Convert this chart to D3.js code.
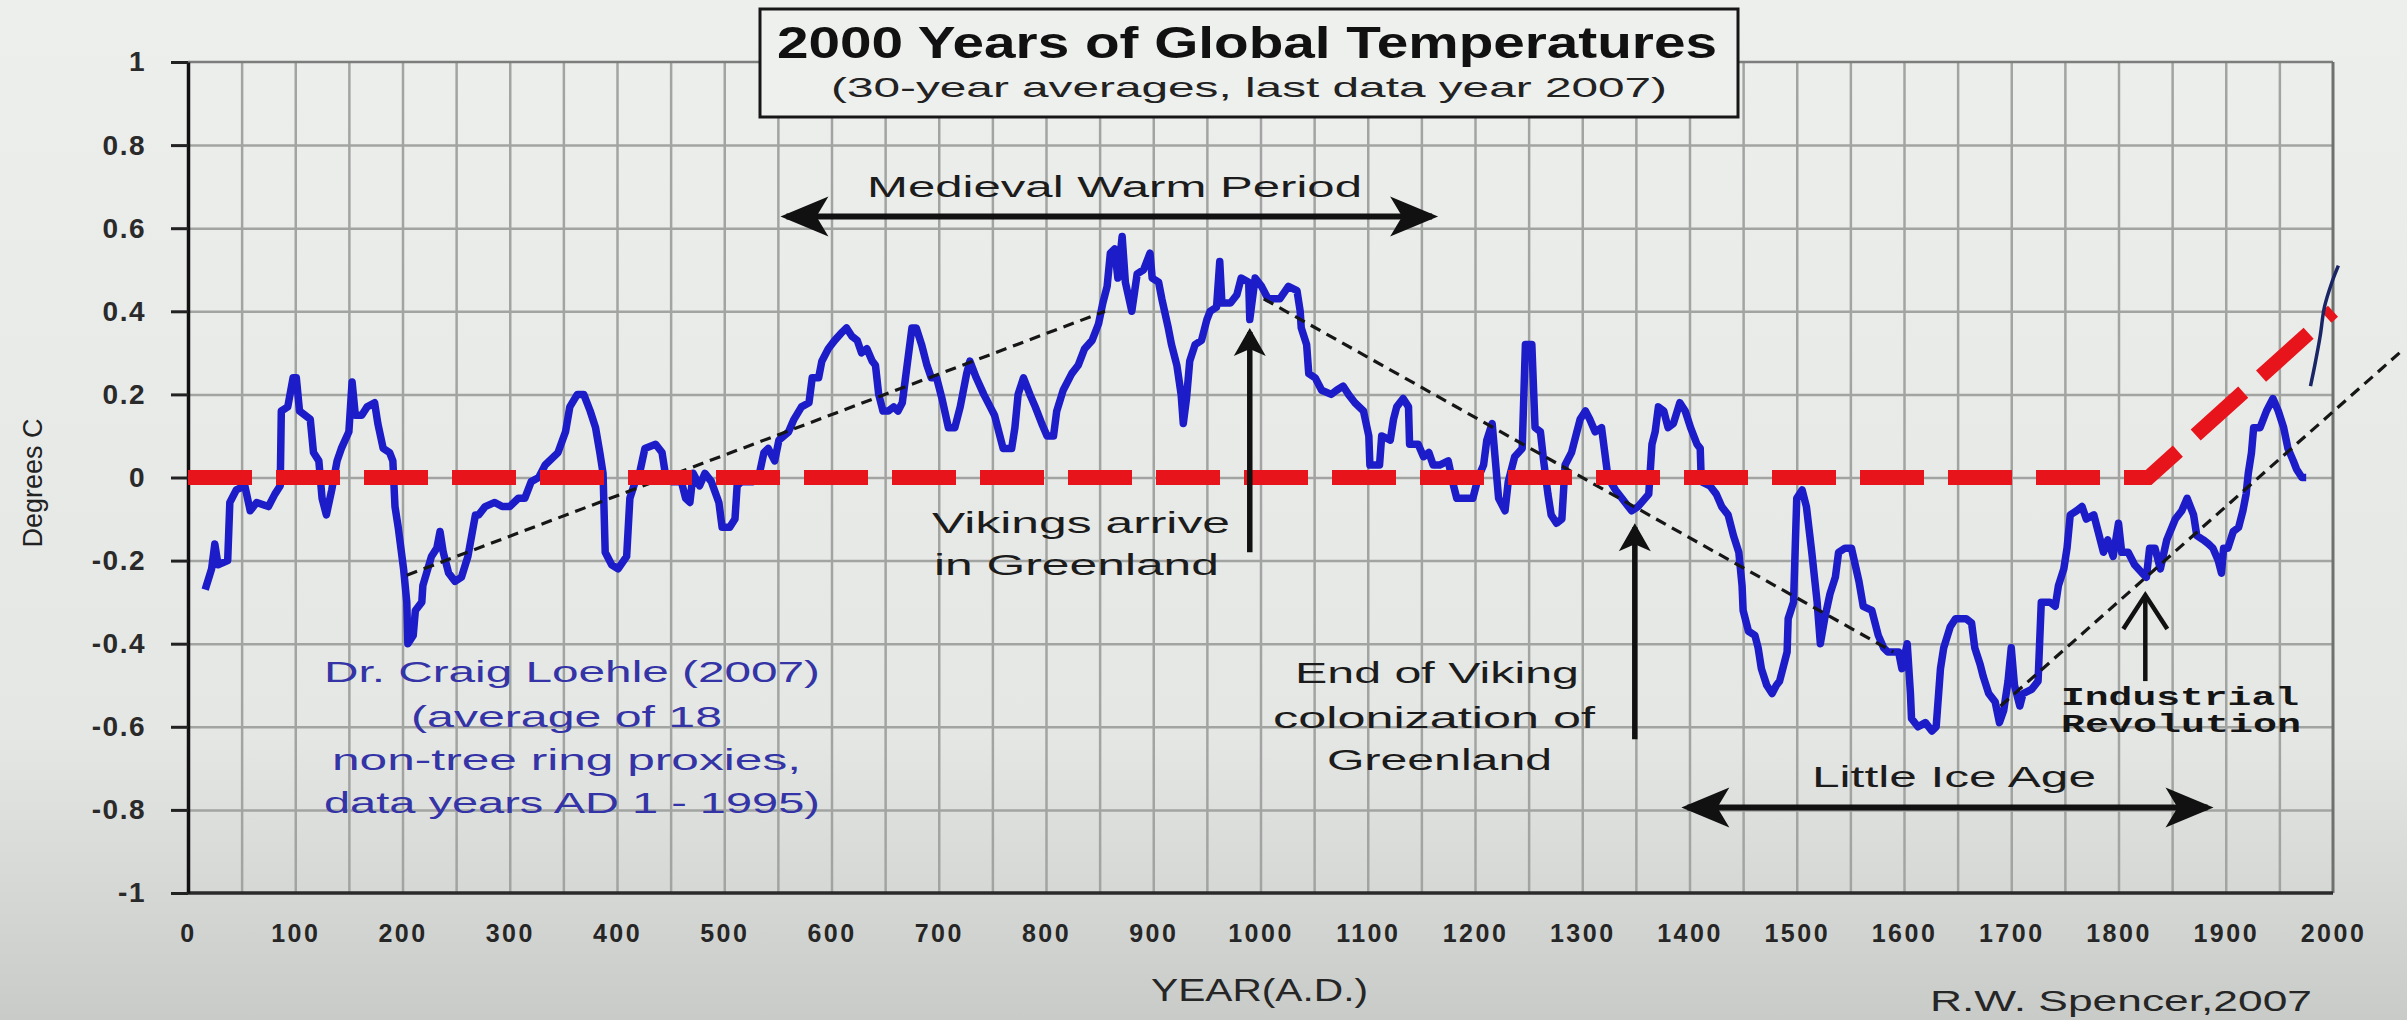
<!DOCTYPE html>
<html>
<head>
<meta charset="utf-8">
<script src="https://cdn.jsdelivr.net/npm/d3@7"></script>
<style>
  html, body { margin: 0; padding: 0; background: #e8eae8; overflow: hidden; }
  svg { display: block; font-family: "Liberation Sans", Arial, sans-serif; }
</style>
</head>
<body>
<svg id="chart"></svg>
<script>
// Loehle (2007) 30-year averages
const years = [
  16,22,25,28,37,39,45,53,58,64,
  75,81,86,87,93,98,101,104,114,117,
  122,125,129,134,139,143,150,153,156,162,
  167,174,177,182,188,191,193,196,201,204,
  205,210,212,218,219,227,232,235,238,243,
  249,255,261,268,271,277,286,293,300,308,
  314,320,327,333,345,352,356,363,369,375,
  380,384,387,389,395,401,409,412,417,421,
  426,436,442,445,451,460,464,468,471,477,
  482,488,495,498,505,510,512,516,527,532,
  537,541,547,551,560,565,572,579,582,588,
  591,597,603,610,614,619,624,628,633,638,
  641,644,648,653,658,662,666,670,675,679,
  684,689,693,698,703,709,715,720,726,729,
  735,742,748,752,757,760,768,771,774,779,
  785,790,796,801,807,810,816,824,830,836,
  843,849,853,857,860,864,867,871,874,880,
  885,891,897,899,905,908,914,917,922,926,
  928,931,934,939,945,950,953,959,962,964,
  972,978,982,989,990,995,1001,1007,1013,1018,
  1026,1034,1037,1038,1043,1045,1051,1057,1066,1071,
  1077,1082,1088,1096,1101,1102,1111,1113,1121,1124,
  1127,1133,1138,1139,1147,1152,1157,1161,1167,1175,
  1180,1183,1192,1198,1203,1208,1211,1216,1219,1222,
  1228,1231,1237,1244,1247,1253,1256,1261,1264,1268,
  1271,1276,1281,1284,1290,1295,1298,1303,1307,1312,
  1318,1321,1324,1331,1340,1346,1352,1362,1365,1368,
  1371,1376,1380,1385,1391,1396,1401,1407,1410,1411,
  1419,1425,1430,1436,1441,1446,1449,1450,1455,1461,
  1464,1467,1472,1477,1481,1484,1488,1491,1492,1497,
  1500,1505,1509,1514,1519,1522,1526,1531,1536,1539,
  1545,1551,1558,1562,1570,1576,1581,1585,1595,1598,
  1603,1606,1607,1613,1620,1626,1630,1634,1637,1643,
  1648,1654,1658,1663,1666,1671,1674,1679,1685,1689,
  1693,1697,1700,1703,1708,1711,1719,1725,1728,1736,
  1741,1744,1749,1752,1755,1761,1766,1770,1777,1781,
  1786,1790,1795,1800,1803,1809,1815,1822,1826,1829,
  1834,1839,1845,1853,1859,1864,1870,1873,1879,1884,
  1888,1893,1896,1898,1902,1907,1912,1916,1919,1921,
  1924,1926,1932,1938,1944,1949,1954,1958,1963,1966,
  1971,1975
];
const temps = [
  -0.27,-0.22,-0.16,-0.21,-0.20,-0.06,-0.03,-0.02,-0.08,-0.06,
  -0.07,-0.04,-0.02,0.16,0.17,0.24,0.24,0.16,0.14,0.06,
  0.04,-0.05,-0.09,-0.03,0.04,0.07,0.11,0.23,0.15,0.15,
  0.17,0.18,0.13,0.07,0.06,0.04,-0.07,-0.12,-0.22,-0.30,
  -0.40,-0.38,-0.32,-0.30,-0.26,-0.19,-0.17,-0.13,-0.18,-0.23,
  -0.25,-0.24,-0.19,-0.09,-0.09,-0.07,-0.06,-0.07,-0.07,-0.05,
  -0.05,-0.01,0.00,0.03,0.06,0.11,0.17,0.20,0.20,0.16,
  0.12,0.06,0.01,-0.18,-0.21,-0.22,-0.19,-0.05,-0.01,0.01,
  0.07,0.08,0.06,0.01,-0.01,-0.01,-0.05,-0.06,0.01,-0.02,
  0.01,-0.01,-0.06,-0.12,-0.12,-0.10,-0.02,-0.01,-0.01,0.00,
  0.06,0.07,0.04,0.09,0.11,0.14,0.17,0.18,0.24,0.24,
  0.28,0.31,0.33,0.35,0.36,0.34,0.33,0.30,0.31,0.28,
  0.27,0.20,0.16,0.16,0.17,0.16,0.18,0.26,0.36,0.36,
  0.32,0.27,0.24,0.24,0.19,0.12,0.12,0.17,0.25,0.28,
  0.24,0.20,0.17,0.15,0.10,0.07,0.07,0.12,0.20,0.24,
  0.20,0.17,0.13,0.10,0.10,0.16,0.21,0.25,0.27,0.31,
  0.33,0.37,0.42,0.46,0.54,0.55,0.48,0.58,0.47,0.40,
  0.49,0.50,0.54,0.48,0.47,0.43,0.36,0.32,0.27,0.20,
  0.13,0.19,0.28,0.32,0.33,0.38,0.40,0.41,0.52,0.42,
  0.42,0.44,0.48,0.47,0.38,0.48,0.46,0.43,0.43,0.43,
  0.46,0.45,0.40,0.36,0.32,0.25,0.24,0.21,0.20,0.21,
  0.22,0.20,0.18,0.16,0.10,0.03,0.03,0.10,0.09,0.14,
  0.17,0.19,0.17,0.08,0.08,0.05,0.06,0.03,0.03,0.04,
  -0.02,-0.05,-0.05,-0.05,0.00,0.03,0.09,0.13,0.04,-0.05,
  -0.08,-0.01,0.05,0.07,0.32,0.32,0.12,0.11,0.04,-0.04,
  -0.09,-0.11,-0.10,0.03,0.06,0.11,0.14,0.16,0.14,0.11,
  0.12,0.06,0.00,-0.03,-0.06,-0.08,-0.07,-0.04,0.08,0.11,
  0.17,0.16,0.12,0.13,0.18,0.16,0.12,0.08,0.07,-0.01,
  -0.02,-0.04,-0.07,-0.09,-0.14,-0.18,-0.26,-0.32,-0.37,-0.38,
  -0.41,-0.46,-0.50,-0.52,-0.50,-0.49,-0.45,-0.42,-0.34,-0.30,
  -0.05,-0.03,-0.07,-0.18,-0.30,-0.40,-0.34,-0.28,-0.24,-0.18,
  -0.17,-0.17,-0.25,-0.31,-0.32,-0.38,-0.41,-0.42,-0.42,-0.46,
  -0.40,-0.52,-0.58,-0.60,-0.59,-0.61,-0.60,-0.46,-0.41,-0.36,
  -0.34,-0.34,-0.34,-0.35,-0.41,-0.45,-0.48,-0.52,-0.54,-0.59,
  -0.56,-0.49,-0.41,-0.50,-0.55,-0.52,-0.51,-0.49,-0.30,-0.30,
  -0.31,-0.26,-0.22,-0.17,-0.09,-0.08,-0.07,-0.10,-0.09,-0.13,
  -0.18,-0.15,-0.19,-0.11,-0.18,-0.18,-0.21,-0.23,-0.24,-0.17,
  -0.17,-0.22,-0.15,-0.10,-0.08,-0.05,-0.09,-0.14,-0.15,-0.16,
  -0.17,-0.20,-0.23,-0.17,-0.17,-0.13,-0.12,-0.08,-0.04,0.01,
  0.06,0.12,0.12,0.16,0.19,0.16,0.12,0.07,0.04,0.02,
  0.00,0.00
];

// red "baseline then warming" dashed line
const redYears = [0, 1828, 2000];
const redTemps = [0, 0, 0.40];

// thin navy line drawn in at the end
const recentYears = [1979, 1983, 1988, 1992, 1999, 2005];
const recentTemps = [0.22, 0.27, 0.34, 0.41, 0.47, 0.51];

// black dashed trend segments
const trendYears = [[204, 855], [1003, 1590], [1690, 2062]];
const trendTemps = [[-0.235, 0.40], [0.43, -0.42], [-0.55, 0.30]];

// horizontal period arrows
const periodNames = ["Medieval Warm Period", "Little Ice Age"];
const periodStart = [558, 1398];
const periodEnd = [1160, 1883];
const periodLevel = [0.628, -0.794];

// vertical event arrows
const eventYears = [990, 1349, 1825];
const eventFrom = [-0.18, -0.63, -0.49];
const eventTo = [0.35, -0.12, -0.283];

const xTickValues = [0,100,200,300,400,500,600,700,800,900,1000,1100,1200,1300,1400,1500,1600,1700,1800,1900,2000];
const xTickLabels = ["0","100","200","300","400","500","600","700","800","900","1000","1100","1200","1300","1400","1500","1600","1700","1800","1900","2000"];
const yTickValues = [1, 0.8, 0.6, 0.4, 0.2, 0, -0.2, -0.4, -0.6, -0.8, -1];
const yTickLabels = ["1","0.8","0.6","0.4","0.2","0","-0.2","-0.4","-0.6","-0.8","-1"];

const W = 2407, H = 1020;

const svg = d3.select("#chart").attr("width", W).attr("height", H);
const defs = svg.append("defs");

const grad = defs.append("linearGradient").attr("id", "bg")
    .attr("x1", 0).attr("y1", 0).attr("x2", 0).attr("y2", 1);
grad.append("stop").attr("offset", "0%").attr("stop-color", "#edefed");
grad.append("stop").attr("offset", "72%").attr("stop-color", "#e5e7e5");
grad.append("stop").attr("offset", "100%").attr("stop-color", "#c8cbc8");

defs.append("marker").attr("id", "bigHead")
    .attr("viewBox", "-50 -25 60 50").attr("markerWidth", 60).attr("markerHeight", 50)
    .attr("markerUnits", "userSpaceOnUse").attr("refX", 0).attr("refY", 0)
    .attr("orient", "auto-start-reverse")
  .append("path").attr("d", "M6,0L-42,-20L-30,0L-42,20Z").attr("fill", "#111");

defs.append("marker").attr("id", "smallHead")
    .attr("viewBox", "-30 -20 40 40").attr("markerWidth", 40).attr("markerHeight", 40)
    .attr("markerUnits", "userSpaceOnUse").attr("refX", 0).attr("refY", 0)
    .attr("orient", "auto")
  .append("path").attr("d", "M4,0L-24,-16L-17,0L-24,16Z").attr("fill", "#111");

defs.append("marker").attr("id", "openHead")
    .attr("viewBox", "-40 -28 46 56").attr("markerWidth", 46).attr("markerHeight", 56)
    .attr("markerUnits", "userSpaceOnUse").attr("refX", 0).attr("refY", 0)
    .attr("orient", "auto")
  .append("path").attr("d", "M-34,-22L0,0L-34,22")
    .attr("fill", "none").attr("stroke", "#111").attr("stroke-width", 4.5);

svg.append("rect").attr("width", W).attr("height", H).attr("fill", "url(#bg)");

const x = d3.scaleLinear().domain([0, 2000]).range([188, 2333]);
const y = d3.scaleLinear().domain([-1, 1]).range([893, 62]);

// grid
svg.append("g")
    .attr("transform", `translate(0,${y(-1)})`)
    .call(d3.axisBottom(x).tickValues(d3.range(50, 2000, 50)).tickSize(-(y(-1) - y(1))).tickFormat(""))
    .call(g => g.select(".domain").remove())
    .selectAll("line").attr("stroke", "#a2a4a2").attr("stroke-width", 2.5);

svg.append("g")
    .attr("transform", `translate(${x(0)},0)`)
    .call(d3.axisRight(y).tickValues(yTickValues.slice(1, -1)).tickSize(x(2000) - x(0)).tickFormat(""))
    .call(g => g.select(".domain").remove())
    .selectAll("line").attr("stroke", "#a2a4a2").attr("stroke-width", 2.5);

// plot frame
svg.append("line")
    .attr("x1", x(0)).attr("x2", x(2000)).attr("y1", y(1)).attr("y2", y(1))
    .attr("stroke", "#7c7e7c").attr("stroke-width", 2.5);
svg.append("line")
    .attr("x1", x(2000)).attr("x2", x(2000)).attr("y1", y(1)).attr("y2", y(-1))
    .attr("stroke", "#6f716f").attr("stroke-width", 3);
svg.append("line")
    .attr("x1", x(0)).attr("x2", x(2000)).attr("y1", y(-1)).attr("y2", y(-1))
    .attr("stroke", "#2a2a2a").attr("stroke-width", 3.5);

// y axis
const yAxis = svg.append("g")
    .attr("transform", `translate(${x(0)},0)`)
    .call(d3.axisLeft(y).tickValues(yTickValues).tickSize(17).tickSizeOuter(0).tickPadding(25)
        .tickFormat((d, i) => yTickLabels[i]));
yAxis.select(".domain").attr("stroke", "#111").attr("stroke-width", 3.5);
yAxis.selectAll(".tick line").attr("stroke", "#222").attr("stroke-width", 3);
yAxis.selectAll("text")
    .attr("font-size", 28).attr("font-weight", "bold").attr("fill", "#2a2a2a")
    .attr("font-family", "Liberation Sans, Arial, sans-serif")
    .attr("letter-spacing", 1.5);

// x axis labels
const xAxis = svg.append("g")
    .attr("transform", `translate(0,${y(-1)})`)
    .call(d3.axisBottom(x).tickValues(xTickValues).tickSize(0).tickFormat((d, i) => xTickLabels[i]));
xAxis.select(".domain").remove();
xAxis.selectAll("text")
    .attr("y", 49).attr("dy", 0)
    .attr("font-size", 25).attr("font-weight", "bold").attr("fill", "#262626")
    .attr("font-family", "Liberation Sans, Arial, sans-serif")
    .attr("letter-spacing", 2.5);

// data line
const lineGen = d3.line()
    .x((d, i) => x(years[i]))
    .y((d, i) => y(temps[i]));
svg.append("path")
    .attr("d", lineGen(years))
    .attr("fill", "none")
    .attr("stroke", "#1c1cc9")
    .attr("stroke-width", 7.5)
    .attr("stroke-linejoin", "round");

// trend lines
trendYears.forEach((ys, k) => {
    svg.append("line")
        .attr("x1", x(ys[0])).attr("y1", y(trendTemps[k][0]))
        .attr("x2", x(ys[1])).attr("y2", y(trendTemps[k][1]))
        .attr("stroke", "#161616").attr("stroke-width", 3.2)
        .attr("stroke-dasharray", "11,7");
});

// red dashed
svg.append("path")
    .attr("d", d3.line().x((d, i) => x(redYears[i])).y((d, i) => y(redTemps[i]))(redYears))
    .attr("fill", "none")
    .attr("stroke", "#e8141b")
    .attr("stroke-width", 15)
    .attr("stroke-dasharray", "64,24");

// navy recent line
svg.append("path")
    .attr("d", d3.line().curve(d3.curveCatmullRom)
        .x((d, i) => x(recentYears[i])).y((d, i) => y(recentTemps[i]))(recentYears))
    .attr("fill", "none")
    .attr("stroke", "#1a2566")
    .attr("stroke-width", 3.5);

// period arrows
periodStart.forEach((s, k) => {
    svg.append("line")
        .attr("x1", x(s)).attr("x2", x(periodEnd[k]))
        .attr("y1", y(periodLevel[k])).attr("y2", y(periodLevel[k]))
        .attr("stroke", "#111").attr("stroke-width", 6)
        .attr("marker-start", "url(#bigHead)")
        .attr("marker-end", "url(#bigHead)");
});

// event arrows
eventYears.forEach((yr, k) => {
    svg.append("line")
        .attr("x1", x(yr)).attr("x2", x(yr))
        .attr("y1", y(eventFrom[k])).attr("y2", y(eventTo[k]))
        .attr("stroke", "#111").attr("stroke-width", k === 2 ? 4.5 : 5.5)
        .attr("marker-end", k === 2 ? "url(#openHead)" : "url(#smallHead)");
});

// title box
svg.append("rect")
    .attr("x", 760).attr("y", 9).attr("width", 978).attr("height", 108)
    .attr("fill", "#eef0ee").attr("stroke", "#161616").attr("stroke-width", 3);

function label(str, px, py, len, size, opts) {
    opts = opts || {};
    svg.append("text")
        .attr("x", px).attr("y", py)
        .attr("font-size", size)
        .attr("font-weight", opts.weight || "normal")
        .attr("font-family", opts.family || "Liberation Sans, Arial, sans-serif")
        .attr("fill", opts.color || "#1c1c1c")
        .attr("textLength", len)
        .attr("lengthAdjust", "spacingAndGlyphs")
        .text(str);
}

label("2000 Years of Global Temperatures", 777, 58, 940, 45, {weight: "bold", color: "#111"});
label("(30-year averages, last data year 2007)", 831, 97, 836, 28, {color: "#222"});

label(periodNames[0], 867, 197, 495, 29);
label(periodNames[1], 1812, 787, 284, 30);

label("Vikings arrive", 932, 533, 298, 30);
label("in Greenland", 934, 575, 285, 30);

label("End of Viking", 1295, 683, 284, 30);
label("colonization of", 1273, 728, 322, 30);
label("Greenland", 1327, 770, 225, 30);

const blueText = "#3434a6";
label("Dr. Craig Loehle (2007)", 324, 682, 496, 30, {color: blueText});
label("(average of 18", 411, 727, 311, 30, {color: blueText});
label("non-tree ring proxies,", 332, 770, 469, 30, {color: blueText});
label("data years AD 1 - 1995)", 324, 813, 496, 30, {color: blueText});

label("Industrial", 2061, 705, 238, 26, {weight: "bold", family: "Liberation Mono, Courier New, monospace", color: "#151515"});
label("Revolution", 2061, 732, 240, 26, {weight: "bold", family: "Liberation Mono, Courier New, monospace", color: "#151515"});

label("YEAR(A.D.)", 1151, 1001, 217, 32, {color: "#262626"});
label("R.W. Spencer,2007", 1930, 1011, 382, 30, {color: "#262626"});

svg.append("text")
    .attr("transform", "translate(42,483) rotate(-90)")
    .attr("text-anchor", "middle")
    .attr("font-size", 27)
    .attr("fill", "#222")
    .text("Degrees C");
</script>
</body>
</html>
